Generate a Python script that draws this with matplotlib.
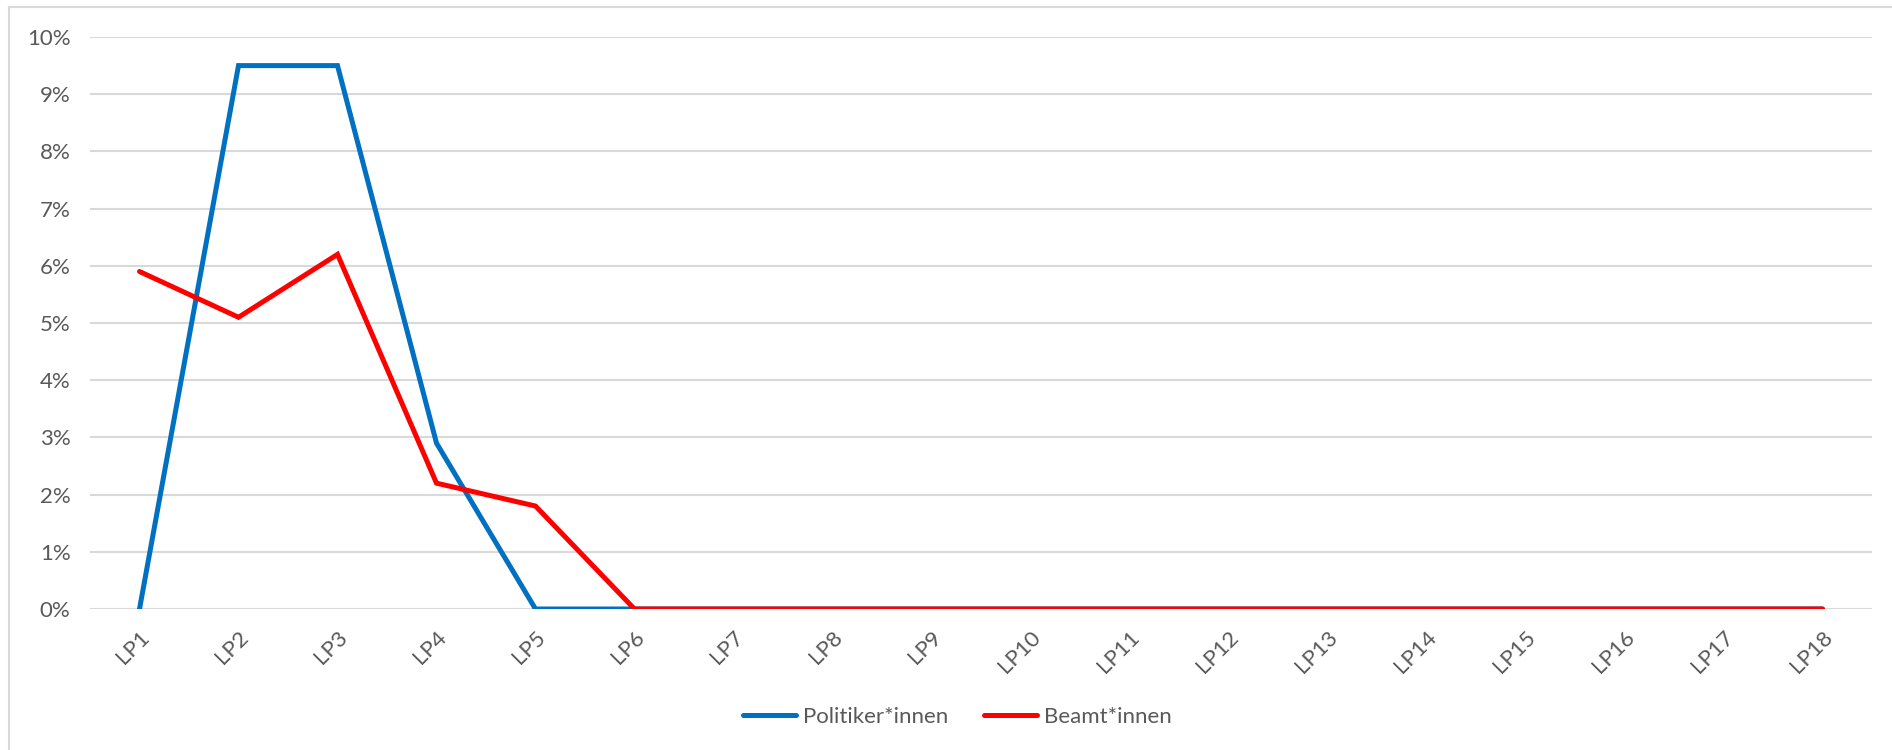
import matplotlib
matplotlib.use("Agg")
import matplotlib.pyplot as plt
from matplotlib.ticker import PercentFormatter
from matplotlib.lines import Line2D

# Data
periods = ["LP" + str(i) for i in range(1, 19)]
politiker = [0.0, 9.5, 9.5, 2.9, 0.0, 0.0, 0.0, 0.0, 0.0,
             0.0, 0.0, 0.0, 0.0, 0.0, 0.0, 0.0, 0.0, 0.0]
beamte = [5.9, 5.1, 6.2, 2.2, 1.8, 0.0, 0.0, 0.0, 0.0,
          0.0, 0.0, 0.0, 0.0, 0.0, 0.0, 0.0, 0.0, 0.0]

text_color = "#595959"
plt.rcParams["font.family"] = ["Lato", "DejaVu Sans"]

fig = plt.figure(figsize=(18.92, 7.5), dpi=100)
ax = fig.add_axes([90 / 1892, 1 - 609 / 750, (1872 - 90) / 1892, (609 - 37) / 750])

x = range(len(periods))
ax.plot(x, politiker, color="#0070C0", lw=3.6, solid_capstyle="round",
        solid_joinstyle="miter", label="Politiker*innen", zorder=3)
ax.plot(x, beamte, color="#FF0000", lw=3.6, solid_capstyle="round",
        solid_joinstyle="miter", label="Beamt*innen", zorder=4)

ax.set_xlim(-0.5, len(periods) - 0.5)
ax.set_ylim(0, 10)
ax.set_yticks(range(0, 11))
ax.yaxis.set_major_formatter(PercentFormatter(decimals=0))
ax.set_xticks(list(x))
ax.set_xticklabels(periods, rotation=45, ha="right", va="top",
                   rotation_mode="anchor")
ax.tick_params(axis="both", length=0, labelsize=16, colors=text_color)
ax.tick_params(axis="x", pad=13)
ax.tick_params(axis="y", pad=14)

ax.grid(axis="y", color="#D9D9D9", lw=1.5, zorder=0)
ax.set_axisbelow(True)
for s in ax.spines.values():
    s.set_visible(False)

# outer chart border (top and left visible)
fig.add_artist(Line2D([9 / 1892, 1], [1 - 7 / 750, 1 - 7 / 750],
                      transform=fig.transFigure, color="#D9D9D9", lw=1.5))
fig.add_artist(Line2D([9 / 1892, 9 / 1892], [0, 1 - 7 / 750],
                      transform=fig.transFigure, color="#D9D9D9", lw=1.5))

leg = fig.legend(loc="center", bbox_to_anchor=(0.506, 1 - 717 / 750), ncol=2,
                 frameon=False, fontsize=16, handlelength=2.4,
                 handletextpad=0.3, columnspacing=1.6)
for t in leg.get_texts():
    t.set_color(text_color)

fig.savefig("out.png", dpi=100)
